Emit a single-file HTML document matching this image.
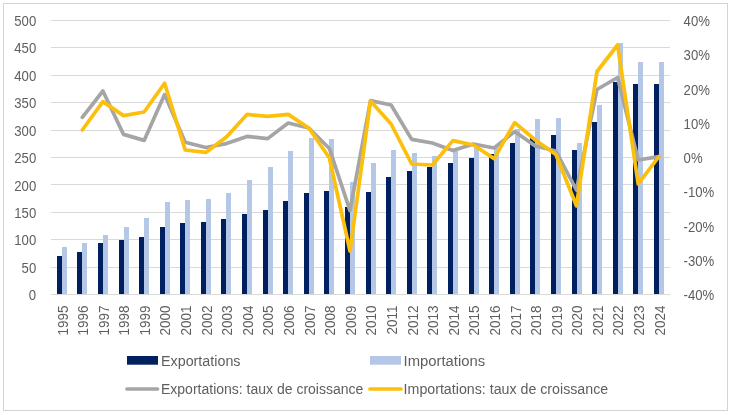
<!DOCTYPE html>
<html lang="fr"><head><meta charset="utf-8"><title>Exportations et importations</title>
<style>
html,body{margin:0;padding:0;background:#fff;}
body{width:731px;height:415px;overflow:hidden;}
svg{display:block;}
text{font-family:"Liberation Sans",sans-serif;font-size:14px;fill:#5e5e5e;}
</style></head><body>
<svg width="731" height="415" viewBox="0 0 731 415">
<rect x="0" y="0" width="731" height="415" fill="#ffffff"/>
<rect x="3.5" y="3.5" width="724" height="407" fill="#ffffff" stroke="#d4d4d4" stroke-width="1"/>

<g stroke="#d9d9d9" stroke-width="1" shape-rendering="crispEdges">
<line x1="51.0" y1="294.50" x2="670.0" y2="294.50"/>
<line x1="51.0" y1="267.09" x2="670.0" y2="267.09"/>
<line x1="51.0" y1="239.68" x2="670.0" y2="239.68"/>
<line x1="51.0" y1="212.27" x2="670.0" y2="212.27"/>
<line x1="51.0" y1="184.86" x2="670.0" y2="184.86"/>
<line x1="51.0" y1="157.45" x2="670.0" y2="157.45"/>
<line x1="51.0" y1="130.04" x2="670.0" y2="130.04"/>
<line x1="51.0" y1="102.63" x2="670.0" y2="102.63"/>
<line x1="51.0" y1="75.22" x2="670.0" y2="75.22"/>
<line x1="51.0" y1="47.81" x2="670.0" y2="47.81"/>
<line x1="51.0" y1="20.40" x2="670.0" y2="20.40"/>
</g>
<g shape-rendering="crispEdges">
<rect x="57" y="256" width="5" height="38.5" fill="#002060"/>
<rect x="62" y="247" width="4.8" height="47.5" fill="#b4c7e7"/>
<rect x="77" y="252" width="5" height="42.5" fill="#002060"/>
<rect x="82" y="243" width="4.8" height="51.5" fill="#b4c7e7"/>
<rect x="98" y="243" width="5" height="51.5" fill="#002060"/>
<rect x="103" y="235" width="4.8" height="59.5" fill="#b4c7e7"/>
<rect x="119" y="240" width="5" height="54.5" fill="#002060"/>
<rect x="124" y="227" width="4.8" height="67.5" fill="#b4c7e7"/>
<rect x="139" y="237" width="5" height="57.5" fill="#002060"/>
<rect x="144" y="218" width="4.8" height="76.5" fill="#b4c7e7"/>
<rect x="160" y="227" width="5" height="67.5" fill="#002060"/>
<rect x="165" y="202" width="4.8" height="92.5" fill="#b4c7e7"/>
<rect x="180" y="223" width="5" height="71.5" fill="#002060"/>
<rect x="185" y="200" width="4.8" height="94.5" fill="#b4c7e7"/>
<rect x="201" y="222" width="5" height="72.5" fill="#002060"/>
<rect x="206" y="199" width="4.8" height="95.5" fill="#b4c7e7"/>
<rect x="221" y="219" width="5" height="75.5" fill="#002060"/>
<rect x="226" y="193" width="4.8" height="101.5" fill="#b4c7e7"/>
<rect x="242" y="214" width="5" height="80.5" fill="#002060"/>
<rect x="247" y="180" width="4.8" height="114.5" fill="#b4c7e7"/>
<rect x="263" y="210" width="5" height="84.5" fill="#002060"/>
<rect x="268" y="167" width="4.8" height="127.5" fill="#b4c7e7"/>
<rect x="283" y="201" width="5" height="93.5" fill="#002060"/>
<rect x="288" y="151" width="4.8" height="143.5" fill="#b4c7e7"/>
<rect x="304" y="193" width="5" height="101.5" fill="#002060"/>
<rect x="309" y="138" width="4.8" height="156.5" fill="#b4c7e7"/>
<rect x="324" y="191" width="5" height="103.5" fill="#002060"/>
<rect x="329" y="139" width="4.8" height="155.5" fill="#b4c7e7"/>
<rect x="345" y="207" width="5" height="87.5" fill="#002060"/>
<rect x="350" y="182" width="4.8" height="112.5" fill="#b4c7e7"/>
<rect x="366" y="192" width="5" height="102.5" fill="#002060"/>
<rect x="371" y="163" width="4.8" height="131.5" fill="#b4c7e7"/>
<rect x="386" y="177" width="5" height="117.5" fill="#002060"/>
<rect x="391" y="150" width="4.8" height="144.5" fill="#b4c7e7"/>
<rect x="407" y="171" width="5" height="123.5" fill="#002060"/>
<rect x="412" y="153" width="4.8" height="141.5" fill="#b4c7e7"/>
<rect x="427" y="167" width="5" height="127.5" fill="#002060"/>
<rect x="432" y="156" width="4.8" height="138.5" fill="#b4c7e7"/>
<rect x="448" y="163" width="5" height="131.5" fill="#002060"/>
<rect x="453" y="151" width="4.8" height="143.5" fill="#b4c7e7"/>
<rect x="469" y="158" width="5" height="136.5" fill="#002060"/>
<rect x="474" y="148" width="4.8" height="146.5" fill="#b4c7e7"/>
<rect x="489" y="154" width="5" height="140.5" fill="#002060"/>
<rect x="494" y="148" width="4.8" height="146.5" fill="#b4c7e7"/>
<rect x="510" y="143" width="5" height="151.5" fill="#002060"/>
<rect x="515" y="129" width="4.8" height="165.5" fill="#b4c7e7"/>
<rect x="530" y="138" width="5" height="156.5" fill="#002060"/>
<rect x="535" y="119" width="4.8" height="175.5" fill="#b4c7e7"/>
<rect x="551" y="135" width="5" height="159.5" fill="#002060"/>
<rect x="556" y="118" width="4.8" height="176.5" fill="#b4c7e7"/>
<rect x="572" y="150" width="5" height="144.5" fill="#002060"/>
<rect x="577" y="143" width="4.8" height="151.5" fill="#b4c7e7"/>
<rect x="592" y="122" width="5" height="172.5" fill="#002060"/>
<rect x="597" y="105" width="4.8" height="189.5" fill="#b4c7e7"/>
<rect x="613" y="82" width="5" height="212.5" fill="#002060"/>
<rect x="618" y="43" width="4.8" height="251.5" fill="#b4c7e7"/>
<rect x="633" y="84" width="5" height="210.5" fill="#002060"/>
<rect x="638" y="62" width="4.8" height="232.5" fill="#b4c7e7"/>
<rect x="654" y="84" width="5" height="210.5" fill="#002060"/>
<rect x="659" y="62" width="4.8" height="232.5" fill="#b4c7e7"/>
</g>
<line x1="51.0" y1="294.50" x2="670.0" y2="294.50" stroke="#d9d9d9" stroke-width="1" shape-rendering="crispEdges"/>
<polyline points="82.3,117.4 102.9,91.0 123.5,134.4 144.1,140.4 164.6,94.6 185.2,142.2 205.8,147.5 226.4,143.6 247.0,136.4 267.6,138.6 288.2,123.0 308.8,128.0 329.4,148.5 350.0,210.6 370.5,100.6 391.1,105.0 411.7,139.4 432.3,143.0 452.9,150.6 473.5,144.0 494.1,148.0 514.7,131.6 535.3,146.0 555.9,151.0 576.4,190.0 597.0,89.5 617.6,77.5 638.2,160.0 658.8,156.6" fill="none" stroke="#a5a5a5" stroke-width="3.7" stroke-linecap="round" stroke-linejoin="round"/>
<polyline points="82.3,130.0 102.9,101.6 123.5,115.6 144.1,112.0 164.6,83.2 185.2,150.0 205.8,152.4 226.4,137.0 247.0,114.4 267.6,116.4 288.2,114.4 308.8,128.0 329.4,158.0 350.0,251.0 370.5,101.0 391.1,124.0 411.7,164.0 432.3,165.0 452.9,140.6 473.5,145.0 494.1,158.6 514.7,122.6 535.3,140.0 555.9,154.5 576.4,205.8 597.0,71.5 617.6,45.0 638.2,184.0 658.8,156.6" fill="none" stroke="#fcbf0c" stroke-width="3.7" stroke-linecap="round" stroke-linejoin="round"/>
<g text-anchor="end">
<text transform="translate(36.2,300.1) scale(0.94,1)">0</text>
<text transform="translate(36.2,272.7) scale(0.94,1)">50</text>
<text transform="translate(36.2,245.3) scale(0.94,1)">100</text>
<text transform="translate(36.2,217.9) scale(0.94,1)">150</text>
<text transform="translate(36.2,190.5) scale(0.94,1)">200</text>
<text transform="translate(36.2,163.0) scale(0.94,1)">250</text>
<text transform="translate(36.2,135.6) scale(0.94,1)">300</text>
<text transform="translate(36.2,108.2) scale(0.94,1)">350</text>
<text transform="translate(36.2,80.8) scale(0.94,1)">400</text>
<text transform="translate(36.2,53.4) scale(0.94,1)">450</text>
<text transform="translate(36.2,26.0) scale(0.94,1)">500</text>
</g>
<g text-anchor="start">
<text transform="translate(683.6,300.1) scale(0.94,1)">-40%</text>
<text transform="translate(683.6,265.8) scale(0.94,1)">-30%</text>
<text transform="translate(683.6,231.6) scale(0.94,1)">-20%</text>
<text transform="translate(683.6,197.3) scale(0.94,1)">-10%</text>
<text transform="translate(683.6,163.0) scale(0.94,1)">0%</text>
<text transform="translate(683.6,128.8) scale(0.94,1)">10%</text>
<text transform="translate(683.6,94.5) scale(0.94,1)">20%</text>
<text transform="translate(683.6,60.3) scale(0.94,1)">30%</text>
<text transform="translate(683.6,26.0) scale(0.94,1)">40%</text>
</g>
<g text-anchor="end">
<text transform="translate(67.5,305.5) rotate(-90) scale(0.965,1)">1995</text>
<text transform="translate(88.1,305.5) rotate(-90) scale(0.965,1)">1996</text>
<text transform="translate(108.7,305.5) rotate(-90) scale(0.965,1)">1997</text>
<text transform="translate(129.3,305.5) rotate(-90) scale(0.965,1)">1998</text>
<text transform="translate(149.9,305.5) rotate(-90) scale(0.965,1)">1999</text>
<text transform="translate(170.4,305.5) rotate(-90) scale(0.965,1)">2000</text>
<text transform="translate(191.0,305.5) rotate(-90) scale(0.965,1)">2001</text>
<text transform="translate(211.6,305.5) rotate(-90) scale(0.965,1)">2002</text>
<text transform="translate(232.2,305.5) rotate(-90) scale(0.965,1)">2003</text>
<text transform="translate(252.8,305.5) rotate(-90) scale(0.965,1)">2004</text>
<text transform="translate(273.4,305.5) rotate(-90) scale(0.965,1)">2005</text>
<text transform="translate(294.0,305.5) rotate(-90) scale(0.965,1)">2006</text>
<text transform="translate(314.6,305.5) rotate(-90) scale(0.965,1)">2007</text>
<text transform="translate(335.2,305.5) rotate(-90) scale(0.965,1)">2008</text>
<text transform="translate(355.8,305.5) rotate(-90) scale(0.965,1)">2009</text>
<text transform="translate(376.3,305.5) rotate(-90) scale(0.965,1)">2010</text>
<text transform="translate(396.9,305.5) rotate(-90) scale(0.965,1)">2011</text>
<text transform="translate(417.5,305.5) rotate(-90) scale(0.965,1)">2012</text>
<text transform="translate(438.1,305.5) rotate(-90) scale(0.965,1)">2013</text>
<text transform="translate(458.7,305.5) rotate(-90) scale(0.965,1)">2014</text>
<text transform="translate(479.3,305.5) rotate(-90) scale(0.965,1)">2015</text>
<text transform="translate(499.9,305.5) rotate(-90) scale(0.965,1)">2016</text>
<text transform="translate(520.5,305.5) rotate(-90) scale(0.965,1)">2017</text>
<text transform="translate(541.1,305.5) rotate(-90) scale(0.965,1)">2018</text>
<text transform="translate(561.7,305.5) rotate(-90) scale(0.965,1)">2019</text>
<text transform="translate(582.2,305.5) rotate(-90) scale(0.965,1)">2020</text>
<text transform="translate(602.8,305.5) rotate(-90) scale(0.965,1)">2021</text>
<text transform="translate(623.4,305.5) rotate(-90) scale(0.965,1)">2022</text>
<text transform="translate(644.0,305.5) rotate(-90) scale(0.965,1)">2023</text>
<text transform="translate(664.6,305.5) rotate(-90) scale(0.965,1)">2024</text>
</g>
<rect x="127" y="356" width="31" height="8.7" fill="#002060"/>
<text x="161" y="365.6" textLength="79.5" lengthAdjust="spacingAndGlyphs">Exportations</text>
<rect x="370" y="356" width="31" height="8.7" fill="#b4c7e7"/>
<text x="403.6" y="365.6" textLength="81.5" lengthAdjust="spacingAndGlyphs">Importations</text>
<line x1="127" y1="389" x2="157.5" y2="389" stroke="#a5a5a5" stroke-width="3.7" stroke-linecap="round"/>
<text x="161" y="394.1" textLength="202.3" lengthAdjust="spacingAndGlyphs">Exportations: taux de croissance</text>
<line x1="370" y1="389" x2="401" y2="389" stroke="#fcbf0c" stroke-width="3.7" stroke-linecap="round"/>
<text x="403.6" y="394.1" textLength="204.6" lengthAdjust="spacingAndGlyphs">Importations: taux de croissance</text>
</svg></body></html>
